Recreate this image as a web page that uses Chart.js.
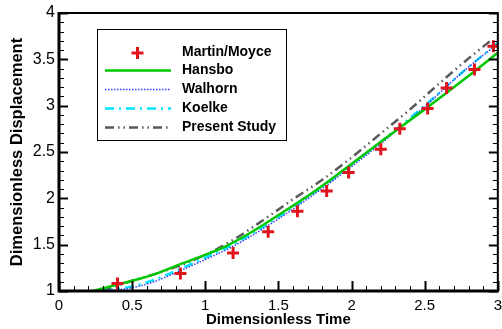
<!DOCTYPE html>
<html>
<head>
<meta charset="utf-8">
<script src="https://cdn.jsdelivr.net/npm/chart.js@4.4.1/dist/chart.umd.min.js"></script>
<style>
  html, body { margin: 0; padding: 0; background: #fff; }
  canvas { display: block; }
</style>
</head>
<body>
<canvas id="lineChart" width="502" height="329"></canvas>
<script>
// Martin/Moyce experiment
var mmTime = [0.40, 0.83, 1.19, 1.43, 1.63, 1.83, 1.98, 2.20, 2.33, 2.52, 2.65, 2.84, 2.97];
var mmDisp = [1.08, 1.19, 1.41, 1.64, 1.86, 2.08, 2.28, 2.53, 2.75, 2.97, 3.19, 3.39, 3.64];

// Hansbo
var hansboTime = [0.23, 0.35, 0.50, 0.65, 0.83, 1.00, 1.15, 1.30, 1.53, 1.75, 1.94, 2.20, 2.50, 2.75, 3.00];
var hansboDisp = [1.00, 1.05, 1.11, 1.18, 1.29, 1.39, 1.49, 1.62, 1.85, 2.08, 2.30, 2.61, 2.96, 3.26, 3.57];

// Walhorn
var walhornTime = [0.34, 0.50, 0.65, 0.83, 1.00, 1.15, 1.30, 1.53, 1.75, 1.94, 2.20, 2.50, 2.75, 3.00];
var walhornDisp = [1.00, 1.035, 1.10, 1.22, 1.34, 1.45, 1.58, 1.81, 2.05, 2.27, 2.59, 2.99, 3.35, 3.67];

// Koelke
var koelkeTime = [0.31, 0.50, 0.65, 0.83, 1.00, 1.15, 1.30, 1.53, 1.75, 1.94, 2.20, 2.50, 2.75, 3.00];
var koelkeDisp = [1.00, 1.05, 1.12, 1.24, 1.36, 1.47, 1.60, 1.83, 2.07, 2.29, 2.61, 3.00, 3.35, 3.68];

// Present Study
var presentTime = [0.30, 0.50, 0.65, 0.80, 1.00, 1.20, 1.40, 1.60, 1.80, 2.00, 2.20, 2.40, 2.60, 2.80, 2.95];
var presentDisp = [1.00, 1.11, 1.18, 1.26, 1.39, 1.56, 1.77, 1.99, 2.20, 2.44, 2.70, 2.96, 3.24, 3.51, 3.70];

var xTicks = [0, 0.5, 1, 1.5, 2, 2.5, 3];
var yTicks = [1, 1.5, 2, 2.5, 3, 3.5, 4];

const FONT = 'Arial, "Liberation Sans", Helvetica, sans-serif';

function pairs(xs, ys) {
  return xs.map((x, i) => ({ x: x, y: ys[i] }));
}

// box + inward ticks, drawn over the curves
const framePlugin = {
  id: 'frame',
  afterDatasetsDraw(chart) {
    const c = chart.ctx;
    const a = chart.chartArea;
    const sx = chart.scales.x;
    const sy = chart.scales.y;
    c.save();
    c.strokeStyle = '#000';

    for (let i = 0; i <= 30; i++) {
      const px = Math.round(sx.getPixelForValue(i / 10)) + 0.5;
      const major = i % 5 === 0;
      c.lineWidth = major ? 2 : 1;
      c.beginPath();
      c.moveTo(px, a.bottom);
      c.lineTo(px, a.bottom - (major ? 10 : 5));
      c.stroke();
    }
    for (let i = 10; i <= 40; i++) {
      const py = Math.round(sy.getPixelForValue(i / 10)) + 0.5;
      const major = i % 5 === 0;
      const len = major ? 9 : 5;
      c.lineWidth = major ? 2 : 1;
      c.beginPath();
      c.moveTo(a.left, py);
      c.lineTo(a.left + len, py);
      c.moveTo(a.right, py);
      c.lineTo(a.right - len, py);
      c.stroke();
    }

    c.lineWidth = 2;
    c.beginPath();
    c.moveTo(a.left, a.top);
    c.lineTo(a.right, a.top);
    c.lineTo(a.right, a.bottom);
    c.stroke();
    c.lineWidth = 3;
    c.beginPath();
    c.moveTo(a.left, a.top - 1);
    c.lineTo(a.left, a.bottom);
    c.lineTo(a.right + 1, a.bottom);
    c.stroke();
    c.restore();
  }
};

// legend box in the upper left of the plot
const legendPlugin = {
  id: 'boxLegend',
  afterDraw(chart) {
    const c = chart.ctx;
    const box = { x: 97.5, y: 29.5, w: 189, h: 111 };
    const rows = [52, 70, 89, 108, 127];
    c.save();
    c.fillStyle = '#fff';
    c.fillRect(box.x, box.y, box.w, box.h);
    c.strokeStyle = '#000';
    c.lineWidth = 1;
    c.strokeRect(box.x, box.y, box.w, box.h);

    chart.data.datasets.forEach((ds, i) => {
      const y = rows[i];
      c.save();
      if (ds.showLine === false) {
        c.strokeStyle = ds.borderColor;
        c.lineWidth = 3;
        c.beginPath();
        c.moveTo(131.5, y + 1);
        c.lineTo(143.5, y + 1);
        c.moveTo(137.5, y - 5);
        c.lineTo(137.5, y + 7);
        c.stroke();
      } else {
        c.strokeStyle = ds.borderColor;
        c.lineWidth = ds.borderWidth;
        c.setLineDash(ds.borderDash || []);
        c.beginPath();
        c.moveTo(105, y + 0.5);
        c.lineTo(171, y + 0.5);
        c.stroke();
      }
      c.restore();
      c.fillStyle = '#000';
      c.font = 'bold 14px ' + FONT;
      c.textBaseline = 'middle';
      c.fillText(ds.label, 182, y);
    });
    c.restore();
  }
};

function createChart() {
  const ctx = document.getElementById('lineChart').getContext('2d');
  const line = { showLine: true, pointRadius: 0, cubicInterpolationMode: 'monotone' };
  return new Chart(ctx, {
    type: 'scatter',
    data: {
      datasets: [{
        label: 'Martin/Moyce',
        data: pairs(mmTime, mmDisp),
        showLine: false,
        pointStyle: 'cross',
        pointRadius: 6,
        pointBorderWidth: 3,
        borderColor: '#e0141c',
        backgroundColor: '#e0141c'
      }, Object.assign({
        label: 'Hansbo',
        data: pairs(hansboTime, hansboDisp),
        borderColor: '#00c800',
        borderWidth: 2.5
      }, line), Object.assign({
        label: 'Walhorn',
        data: pairs(walhornTime, walhornDisp),
        borderColor: '#3c3cff',
        borderWidth: 1.5,
        borderDash: [1.5, 1.5]
      }, line), Object.assign({
        label: 'Koelke',
        data: pairs(koelkeTime, koelkeDisp),
        borderColor: '#00e6ff',
        borderWidth: 2.5,
        borderDash: [9, 5, 2, 5]
      }, line), Object.assign({
        label: 'Present Study',
        data: pairs(presentTime, presentDisp),
        borderColor: '#5a5a5a',
        borderWidth: 2.5,
        borderDash: [9, 4, 1.5, 4, 1.5, 4]
      }, line)]
    },
    options: {
      responsive: false,
      animation: false,
      layout: {
        autoPadding: false,
        padding: { top: 13, right: 0, left: 0, bottom: 0 }
      },
      plugins: {
        legend: { display: false },
        tooltip: { enabled: false }
      },
      scales: {
        x: {
          type: 'linear',
          min: 0,
          max: 3,
          afterFit(scale) { scale.height = 38; },
          afterBuildTicks(scale) { scale.ticks = xTicks.map(v => ({ value: v })); },
          // tick marks are drawn by the frame plugin; tickLength only spaces the labels
          grid: { display: false, drawTicks: true, tickLength: 6 },
          border: { display: false },
          ticks: {
            padding: 0,
            color: '#000',
            font: { family: FONT, size: 15 },
            maxRotation: 0,
            autoSkip: false,
            callback: v => String(v)
          },
          title: {
            display: true,
            text: 'Dimensionless Time',
            color: '#000',
            font: { family: FONT, size: 15, weight: 'bold' },
            padding: { top: 0, bottom: 0 }
          }
        },
        y: {
          type: 'linear',
          min: 1,
          max: 4,
          afterFit(scale) { scale.width = 59; },
          afterBuildTicks(scale) { scale.ticks = yTicks.map(v => ({ value: v })); },
          grid: { display: false, drawTicks: true, tickLength: 4 },
          border: { display: false },
          ticks: {
            padding: 0,
            color: '#000',
            font: { family: FONT, size: 16 },
            autoSkip: false,
            callback: v => String(v)
          },
          title: {
            display: true,
            text: 'Dimensionless Displacement',
            color: '#000',
            font: { family: FONT, size: 16.5, weight: 'bold' },
            padding: { top: 8, bottom: 0 }
          }
        }
      }
    },
    plugins: [framePlugin, legendPlugin]
  });
}

createChart();
</script>
</body>
</html>
